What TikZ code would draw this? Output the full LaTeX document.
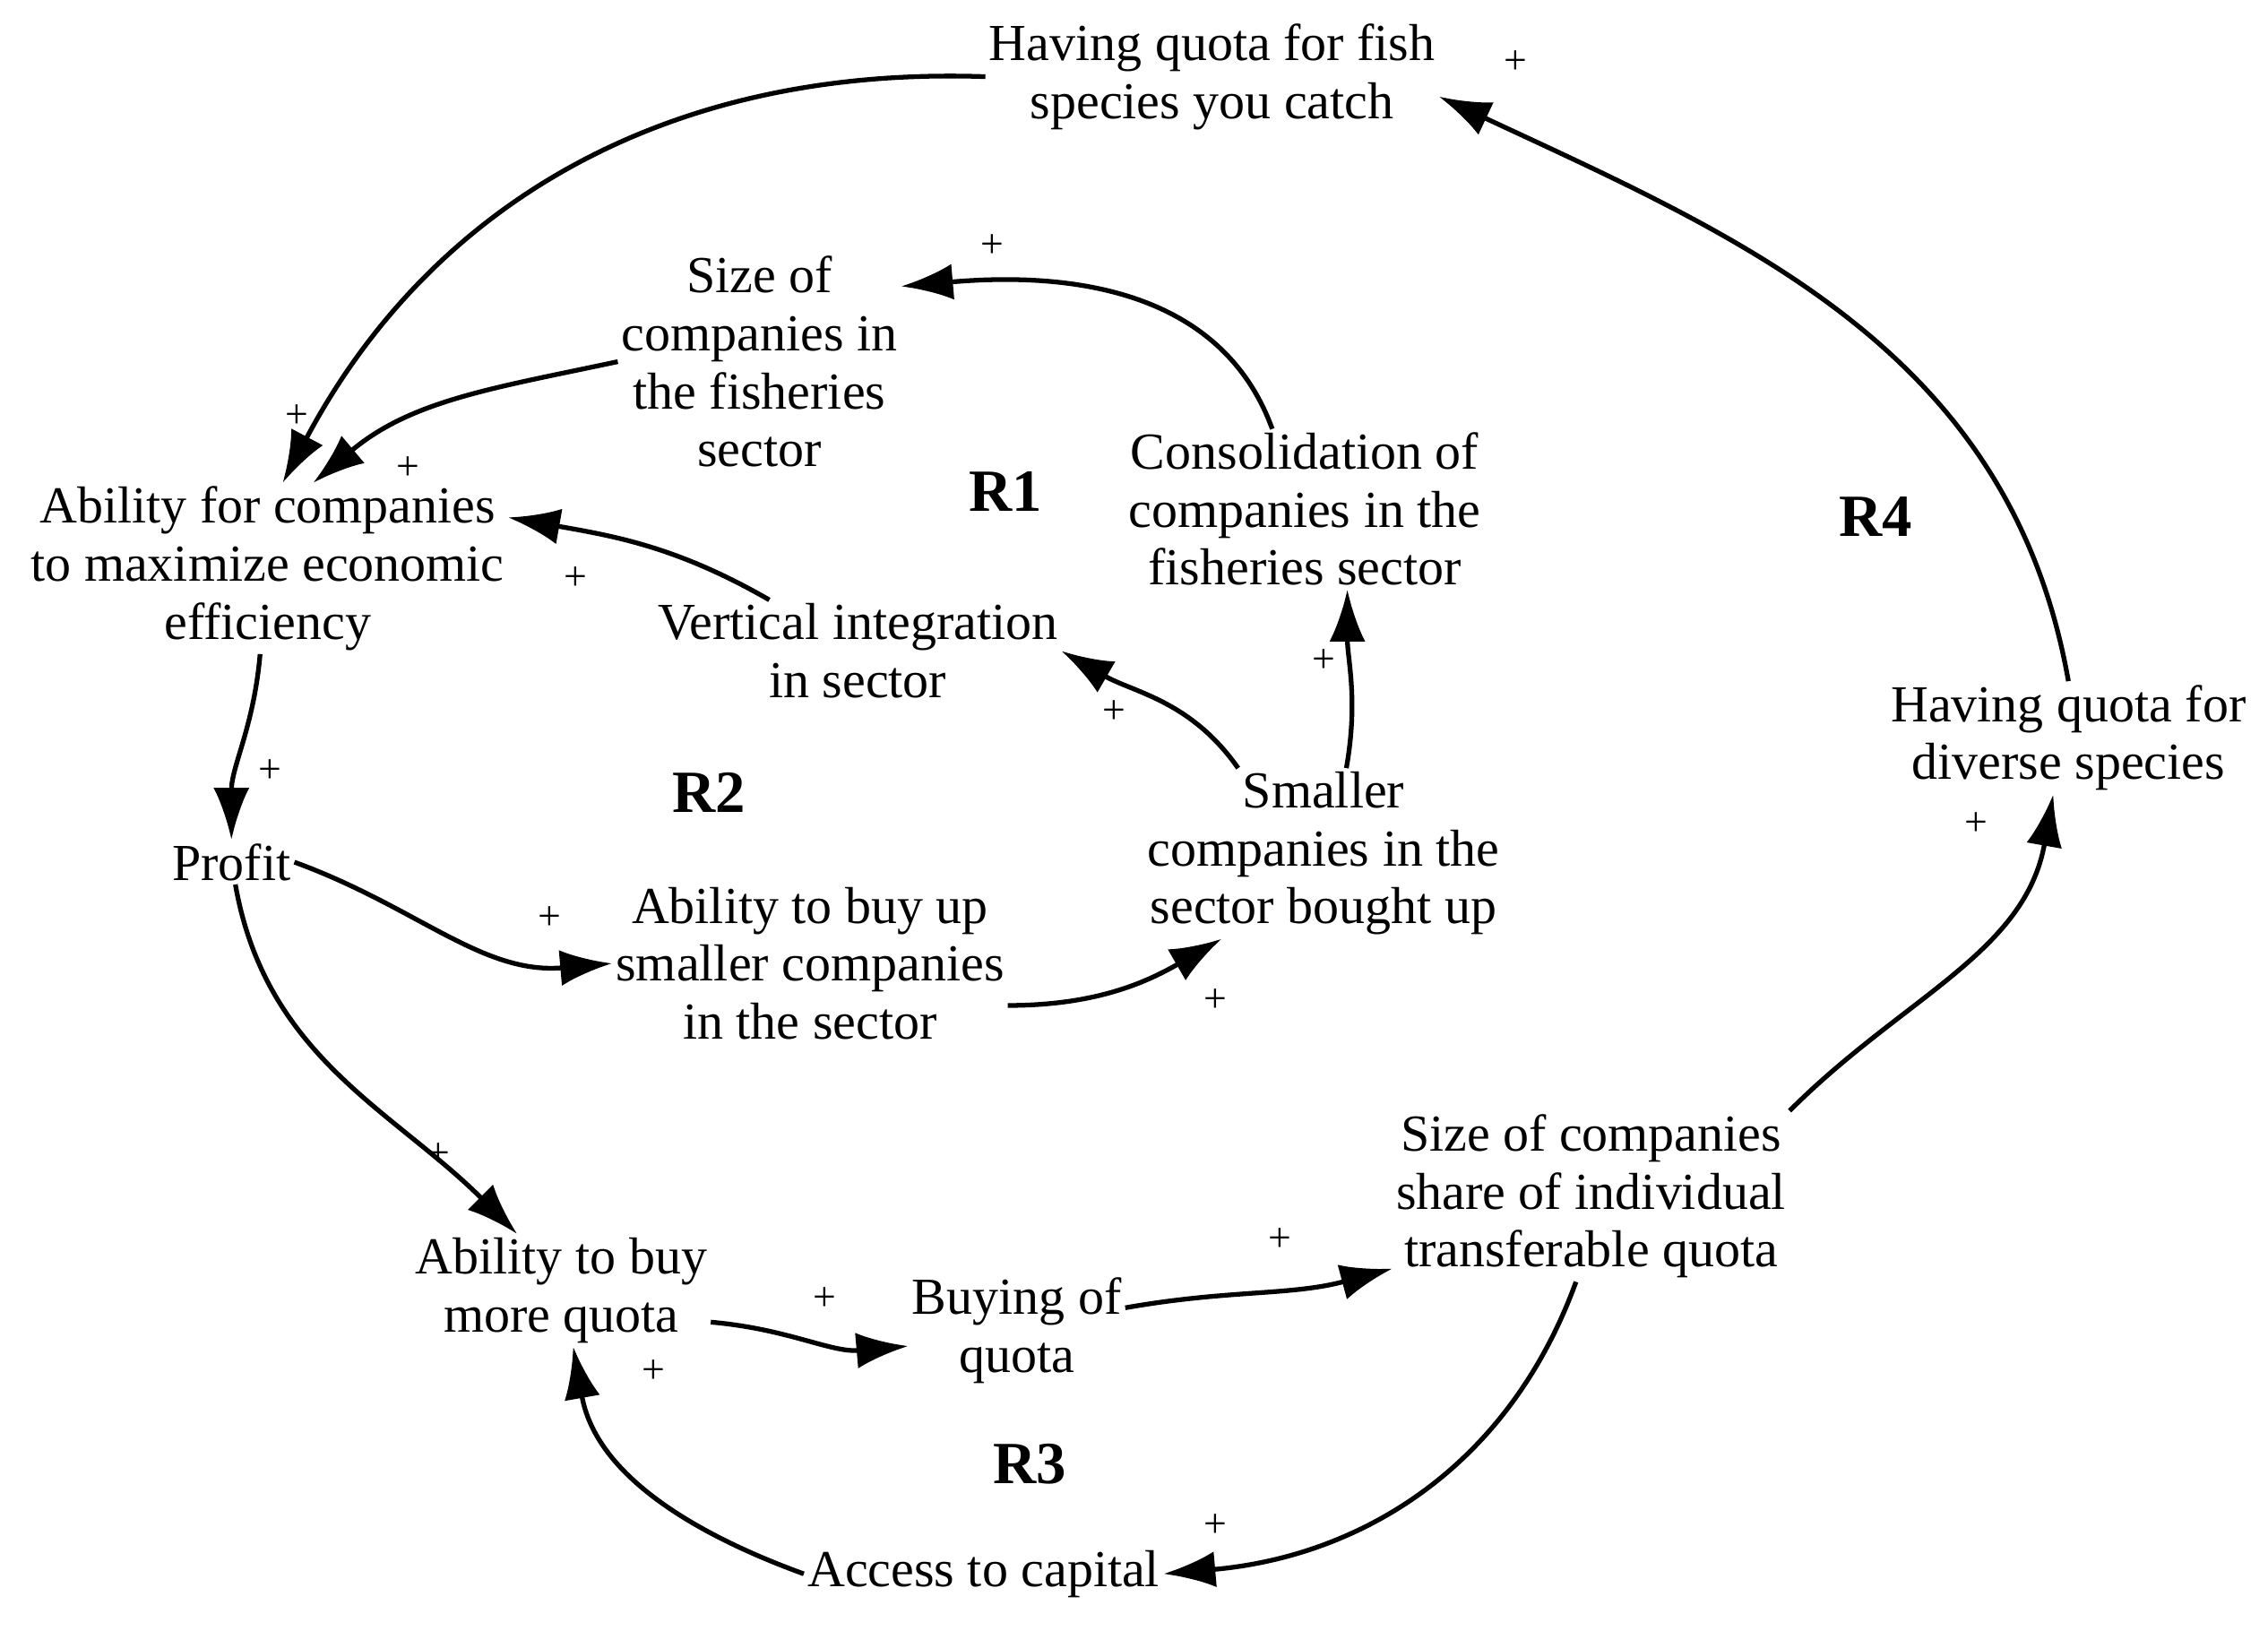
\documentclass[tikz,border=0pt]{standalone}
\usepackage{fontspec}
\setmainfont{Liberation Serif}
\usetikzlibrary{arrows.meta}
\begin{document}
\begin{tikzpicture}[x=0.01614cm,y=-0.01614cm,
  every node/.style={font=\fontsize{16.5}{18.4}\selectfont},
  v/.style={align=center,inner sep=1pt},
  lp/.style={font=\fontsize{13}{14}\selectfont,inner sep=0pt},
  lb/.style={font=\fontsize{19}{20}\selectfont\bfseries},
  ar/.style={line width=1.5pt,-{Latex[length=0.58cm,width=0.4cm]}}]
\useasboundingbox (0,0) rectangle (1568,1127);
\node[v] (HQ) at (838,53) {Having quota for fish\\species you catch};
\node[v] (Size) at (525,250) {Size of\\companies in\\the fisheries\\sector};
\node[v] (Abil) at (185,393) {Ability for companies\\to maximize economic\\efficiency};
\node[v] (Cons) at (902,352) {Consolidation of\\companies in the\\fisheries sector};
\node[v] (Vert) at (593,450) {Vertical integration\\in sector};
\node[v] (Small) at (915,590) {Smaller\\companies in the\\sector bought up};
\node[v] (Div) at (1430,510) {Having quota for\\diverse species};
\node[v] (Profit) at (160,596) {Profit};
\node[v] (BuyUp) at (560,666) {Ability to buy up\\smaller companies\\in the sector};
\node[v] (Share) at (1100,827) {Size of companies\\share of individual\\transferable quota};
\node[v] (AbilQ) at (388,892) {Ability to buy\\more quota};
\node[v] (Buying) at (703,920) {Buying of\\quota};
\node[v] (Access) at (680,1088) {Access to capital};
\node[lb] (R1) at (695,340) {R1};
\node[lb] (R2) at (490,548) {R2};
\node[lb] (R3) at (712,1012) {R3};
\node[lb] (R4) at (1297,357) {R4};
\draw[ar] (HQ.west) to[out=178,in=62] (Abil.80);
\draw[ar] (Size.west) to[out=192,in=40] (Abil.62);
\draw[ar] (Cons.112) to[out=110,in=5] (Size.28);
\draw[ar] (Vert.150) to[out=150,in=-10] (Abil.12);
\draw[ar] (Small.135) to[out=125,in=-30] (Vert.east);
\draw[ar] (Small.75) to[out=80,in=-90] (Cons.-62);
\draw[ar] (Abil.-95) to[out=-95,in=90] (Profit.north);
\draw[ar] (Profit.east) to[out=-20,in=185] (BuyUp.west);
\draw[ar] (BuyUp.-12) to[out=0,in=-150] (Small.-140);
\draw[ar] (Profit.-80) to[out=-80,in=135] (AbilQ.128);
\draw[ar] (AbilQ.-12) to[out=-5,in=185] (Buying.-172);
\draw[ar] (Buying.12) to[out=10,in=195] (Share.-160);
\draw[ar] (Share.-100) to[out=-110,in=5] (Access.east);
\draw[ar] (Access.west) to[out=160,in=-80] (AbilQ.-78);
\draw[ar] (Share.north east) to[out=45,in=-100] (Div.-105);
\draw[ar] (Div.north) to[out=100,in=-25] (HQ.-5);
\node[lp] at (1048,43) {+};
\node[lp] at (686,170) {+};
\node[lp] at (205,288) {+};
\node[lp] at (282,324) {+};
\node[lp] at (398,400) {+};
\node[lp] at (770,492) {+};
\node[lp] at (915,457) {+};
\node[lp] at (187,533) {+};
\node[lp] at (380,635) {+};
\node[lp] at (840,692) {+};
\node[lp] at (303,798) {+};
\node[lp] at (570,898) {+};
\node[lp] at (885,857) {+};
\node[lp] at (840,1055) {+};
\node[lp] at (452,948) {+};
\node[lp] at (1366,570) {+};
\end{tikzpicture}
\end{document}
